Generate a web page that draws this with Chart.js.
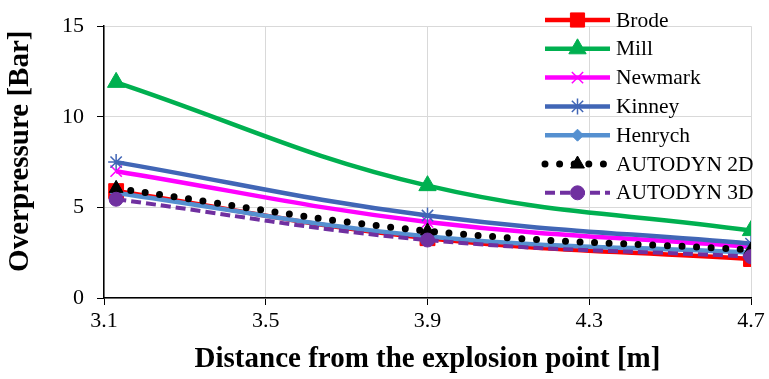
<!DOCTYPE html>
<html>
<head>
<meta charset="utf-8">
<script src="https://cdn.jsdelivr.net/npm/chart.js@4.4.1/dist/chart.umd.min.js"></script>
<style>
    html, body { margin: 0; padding: 0; background: #fff; }
    #wrap { width: 769px; height: 379px; }
</style>
</head>
<body>
<div id="wrap"><canvas id="myChart" width="769" height="379"></canvas></div>
<script>
// distances where the values were taken
const distances = [3.13, 3.9, 4.7]
const xTicks = [3.1, 3.5, 3.9, 4.3, 4.7]
const yTicks = [0, 5, 10, 15]

const seriesNames = ["Brode", "Mill", "Newmark", "Kinney", "Henrych", "AUTODYN 2D", "AUTODYN 3D"]
const brode = [5.9, 3.3, 2.15]
const mill = [11.9, 6.2, 3.72]
const newmark = [7.0, 4.2, 2.82]
const kinney = [7.5, 4.55, 3.0]
const henrych = [5.8, 3.4, 2.5]
const autodyn2d = [6.05, 3.7, 2.65]
const autodyn3d = [5.45, 3.2, 2.28]

const FONT = "'Liberation Serif', 'Times New Roman', serif"

// line + marker look for every series
const styles = [
    {color: "#ff0000", width: 4.5, dash: [], marker: "rect", radius: 10.5},
    {color: "#00b050", width: 4.5, dash: [], marker: "triangle", radius: 10},
    {color: "#ff00ff", width: 4.5, dash: [], marker: "crossRot", radius: 8},
    {color: "#4166b6", width: 4.5, dash: [], marker: "star", radius: 8},
    {color: "#5590d0", width: 4.5, dash: [], marker: "rectRot", radius: 6},
    {color: "#000000", width: 7, dash: [0, 14.6], cap: "round", marker: "triangle", radius: 8},
    {color: "#7030a0", width: 4, dash: [10, 5], marker: "circle", radius: 7}
]

const values = [brode, mill, newmark, kinney, henrych, autodyn2d, autodyn3d]

function thinMarker(m){
    return m == "crossRot" || m == "star"
}

function makeDatasets(){
    let sets = []
    for (let i = 0; i < seriesNames.length; i++){
        let s = styles[i]
        sets.push({
            label: seriesNames[i],
            data: distances.map((d, j) => ({x: d, y: values[i][j]})),
            borderColor: s.color,
            backgroundColor: s.color,
            borderWidth: s.width,
            borderDash: s.dash,
            borderCapStyle: s.cap || "butt",
            tension: 0.4,
            pointStyle: s.marker,
            pointRadius: s.radius,
            pointBackgroundColor: s.color,
            pointBorderColor: s.color,
            pointBorderWidth: thinMarker(s.marker) ? 1.5 : 1,
            order: seriesNames.length - 1 - i   // later series on top, like the original
        })
    }
    return sets
}

// legend drawn inside the plot, top right
const insideLegend = {
    id: "insideLegend",
    afterDatasetsDraw(chart){
        const ctx = chart.ctx
        const x0 = 545, x1 = 610, textX = 616
        const y0 = 20, step = 28.8
        ctx.save()
        for (let i = 0; i < seriesNames.length; i++){
            let s = styles[i]
            let y = y0 + i * step
            ctx.strokeStyle = s.color
            ctx.lineWidth = s.width
            ctx.setLineDash(s.dash)
            ctx.lineCap = s.cap || "butt"
            ctx.beginPath()
            ctx.moveTo(x0, y)
            ctx.lineTo(x1, y)
            ctx.stroke()

            ctx.setLineDash([])
            ctx.lineCap = "butt"
            ctx.fillStyle = s.color
            ctx.strokeStyle = s.color
            ctx.lineWidth = thinMarker(s.marker) ? 1.5 : 1
            let r = s.marker == "rect" ? 10 : s.radius
            Chart.helpers.drawPoint(ctx, {pointStyle: s.marker, radius: r, rotation: 0, borderWidth: ctx.lineWidth}, (x0 + x1) / 2, y)

            ctx.fillStyle = "#000"
            ctx.font = "21.5px " + FONT
            ctx.textBaseline = "middle"
            ctx.textAlign = "left"
            ctx.fillText(seriesNames[i], textX, y + 1)
        }
        ctx.restore()
    }
}

function setup(){
    new Chart("myChart", {
        type: "line",
        data: { datasets: makeDatasets() },
        plugins: [insideLegend],
        options: {
            responsive: false,
            animation: false,
            layout: { padding: {top: 19, right: 18, left: 0, bottom: 0} },
            plugins: {
                legend: { display: false },
                tooltip: { enabled: false }
            },
            scales: {
                x: {
                    type: "linear",
                    min: xTicks[0],
                    max: xTicks[xTicks.length - 1],
                    afterBuildTicks: axis => { axis.ticks = xTicks.map(v => ({value: v})) },
                    afterFit: axis => { axis.height = 81 },
                    ticks: {
                        color: "#000",
                        font: {family: FONT, size: 22},
                        padding: 3,
                        maxRotation: 0,
                        callback: v => Number(v).toFixed(1)
                    },
                    grid: { color: "#d9d9d9", tickColor: "#000", tickLength: 7, lineWidth: 1 },
                    border: { color: "#000", width: 1.5 },
                    title: {
                        display: true,
                        text: "Distance from the explosion point [m]",
                        color: "#000",
                        font: {family: FONT, size: 29, weight: "bold"},
                        padding: {top: 0, bottom: 2}
                    }
                },
                y: {
                    min: yTicks[0],
                    max: yTicks[yTicks.length - 1],
                    afterBuildTicks: axis => { axis.ticks = yTicks.map(v => ({value: v})) },
                    afterFit: axis => { axis.width = 104 },
                    ticks: {
                        color: "#000",
                        font: {family: FONT, size: 22},
                        padding: 13
                    },
                    grid: { color: "#d9d9d9", tickColor: "#000", tickLength: 7, lineWidth: 1 },
                    border: { color: "#000", width: 1.5 },
                    title: {
                        display: true,
                        // leading spaces lift the label a little, as in the original
                        text: "   Overpressure [Bar]",
                        color: "#000",
                        font: {family: FONT, size: 29, weight: "bold"},
                        padding: {top: 3, bottom: 0}
                    }
                }
            }
        }
    })
}

setup()
</script>
</body>
</html>
